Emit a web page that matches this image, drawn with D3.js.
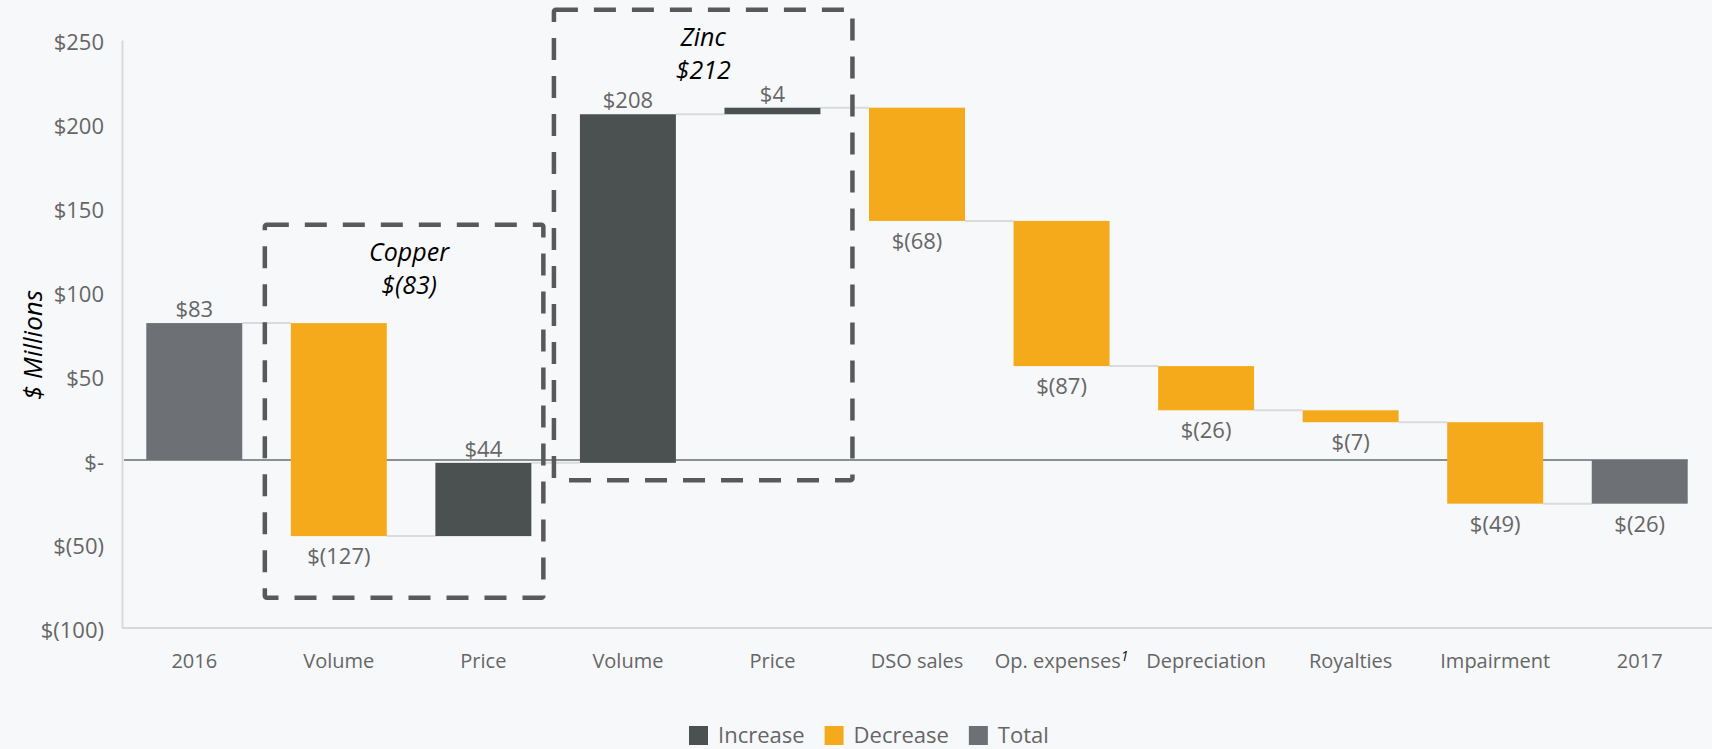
<!DOCTYPE html>
<html>
<head>
<meta charset="utf-8">
<script src="https://cdn.jsdelivr.net/npm/d3@7"></script>
<style>
  html, body { margin: 0; padding: 0; background: #f7f8fa; }
  svg { display: block; font-family: "Open Sans", sans-serif; }
</style>
</head>
<body>
<script>
'use strict';

// categories along the x axis
const categories = ["2016", "Volume", "Price", "Volume", "Price", "DSO sales",
  "Op. expenses", "Depreciation", "Royalties", "Impairment", "2017"];
// bar kind for each category
const kinds = ["total", "decrease", "increase", "increase", "increase", "decrease",
  "decrease", "decrease", "decrease", "decrease", "total"];
// change in $ millions (first and last are the totals)
const values = [81.5, -126.8, 43.6, 207.5, 3.9, -67.4, -86.4, -26.3, -7.1, -48.5, -26.0];
// printed labels
const valueLabels = ["$83", "$(127)", "$44", "$208", "$4", "$(68)", "$(87)",
  "$(26)", "$(7)", "$(49)", "$(26)"];
// y axis ticks
const yTicks = [-100, -50, 0, 50, 100, 150, 200, 250];
// dashed group boxes: first/last category and the $ span they cover
const groupNames = ["Copper", "Zinc"];
const groupTotals = ["$(83)", "$212"];
const groupFrom = [1, 3];
const groupTo = [2, 4];
const groupTop = [140, 268];
const groupBottom = [-82, -12];

const legendNames = ["Increase", "Decrease", "Total"];

let colors = {
  increase: "#4b5050",
  decrease: "#f5aa1c",
  total: "#6d7175"
};

const width = 1712, height = 749;
const font = "'Open Sans', sans-serif";

let svg = d3.select("body").append("svg")
  .attr("width", width)
  .attr("height", height);

svg.append("rect").attr("width", width).attr("height", height).attr("fill", "#f7f8fa");

// scales
let x = d3.scaleBand()
  .domain(d3.range(categories.length))
  .range([122, 1712])
  .paddingInner(0.336)
  .paddingOuter(0.168);

let y = d3.scaleLinear()
  .domain([-100, 250])
  .range([628, 40]);

// running totals -> bar start / end
let bars = [];
let level = 0;
values.forEach((v, i) => {
  let start, end;
  if (kinds[i] == "total") {
    start = 0; end = v; level = v;
  } else {
    start = level; end = level + v; level = end;
  }
  bars.push({ i: i, start: start, end: end, kind: kinds[i], label: valueLabels[i] });
});

// y axis
let yAxis = d3.axisLeft(y)
  .tickValues(yTicks)
  .tickSize(0)
  .tickPadding(18)
  .tickFormat(v => v == 0 ? "$-" : (v < 0 ? "$(" + (-v) + ")" : "$" + v));

let gy = svg.append("g")
  .attr("transform", "translate(122,0)")
  .call(yAxis)
  .attr("font-family", font);
gy.select(".domain").attr("stroke", "#d9d9d9").attr("stroke-width", 2);
gy.selectAll("text")
  .attr("fill", "#666666")
  .style("font-size", "22px")
  .attr("dy", "0.45em");

// x axis at the bottom
let xAxis = d3.axisBottom(x)
  .tickSize(0)
  .tickPadding(26)
  .tickFormat(i => categories[i]);

let gx = svg.append("g")
  .attr("transform", "translate(0,628)")
  .call(xAxis)
  .attr("font-family", font);
gx.select(".domain").attr("stroke", "#d9d9d9").attr("stroke-width", 2)
  .attr("d", "M122,0H1712");
gx.selectAll("text")
  .attr("fill", "#666666")
  .style("font-size", "20px")
  .attr("dy", "0.71em");

// footnote mark on Op. expenses
gx.selectAll(".tick text")
  .filter(i => categories[i] == "Op. expenses")
  .append("tspan")
  .attr("dy", "-0.55em")
  .attr("fill", "#111")
  .style("font-style", "italic")
  .style("font-size", "14px")
  .text("1");

// zero line
svg.append("line")
  .attr("x1", 124)
  .attr("x2", x(categories.length - 1) + x.bandwidth())
  .attr("y1", y(0))
  .attr("y2", y(0))
  .attr("stroke", "#8b9191")
  .attr("stroke-width", 2);

// connectors between bars
svg.selectAll(".conn")
  .data(bars.slice(0, -1))
  .enter()
  .append("line")
  .attr("x1", d => x(d.i) + x.bandwidth())
  .attr("x2", d => x(d.i + 1))
  .attr("y1", d => y(d.end))
  .attr("y2", d => y(d.end))
  .attr("stroke", "#d9dcdf")
  .attr("stroke-width", 2);

// bars
svg.selectAll(".bar")
  .data(bars)
  .enter()
  .append("rect")
  .attr("x", d => x(d.i))
  .attr("width", x.bandwidth())
  .attr("y", d => y(Math.max(d.start, d.end)))
  .attr("height", d => Math.abs(y(d.start) - y(d.end)))
  .attr("fill", d => colors[d.kind]);

// value labels: above the bar when it goes up, below when it goes down
svg.selectAll(".vlabel")
  .data(bars)
  .enter()
  .append("text")
  .attr("x", d => x(d.i) + x.bandwidth() / 2)
  .attr("y", d => {
    let up = d.end >= d.start && !(d.kind == "total" && d.end < 0);
    return up ? y(Math.max(d.start, d.end)) - 6 : y(Math.min(d.start, d.end)) + 28;
  })
  .attr("text-anchor", "middle")
  .attr("fill", "#666666")
  .style("font-size", "22px")
  .text(d => d.label);

// dashed group boxes
groupNames.forEach((name, g) => {
  let left = x(groupFrom[g]) - 26;
  let right = x(groupTo[g]) + x.bandwidth() + (g == 0 ? 12 : 32);
  let top = y(groupTop[g]);
  let bottom = y(groupBottom[g]);

  svg.append("rect")
    .attr("x", left)
    .attr("y", top)
    .attr("width", right - left)
    .attr("height", bottom - top)
    .attr("rx", 2)
    .attr("fill", "none")
    .attr("stroke", "#595959")
    .attr("stroke-width", 4.5)
    .attr("stroke-dasharray", "22,16");

  let cx = (left + right) / 2 + (g == 0 ? 5 : 0);
  svg.append("text")
    .attr("x", cx)
    .attr("y", top + 36)
    .attr("text-anchor", "middle")
    .style("font-style", "italic")
    .style("font-size", "25px")
    .attr("fill", "#000")
    .text(name);
  svg.append("text")
    .attr("x", cx)
    .attr("y", top + 69)
    .attr("text-anchor", "middle")
    .style("font-style", "italic")
    .style("font-size", "25px")
    .attr("fill", "#000")
    .text(groupTotals[g]);
});

// y axis title
svg.append("text")
  .attr("transform", "translate(42,345)rotate(-90)")
  .attr("text-anchor", "middle")
  .style("font-style", "italic")
  .style("font-size", "26px")
  .attr("fill", "#000")
  .text("$ Millions");

// legend
let legend = svg.append("g").attr("transform", "translate(689,734)");
let lx = 0;
legendNames.forEach((name, i) => {
  let key = name.toLowerCase();
  legend.append("rect")
    .attr("x", lx)
    .attr("y", -8)
    .attr("width", 19)
    .attr("height", 19)
    .attr("fill", colors[key]);
  let t = legend.append("text")
    .attr("x", lx + 29)
    .attr("y", 9)
    .attr("fill", "#666666")
    .style("font-size", "22px")
    .text(name);
  lx += 29 + t.node().getComputedTextLength() + 20;
});
</script>
</body>
</html>
